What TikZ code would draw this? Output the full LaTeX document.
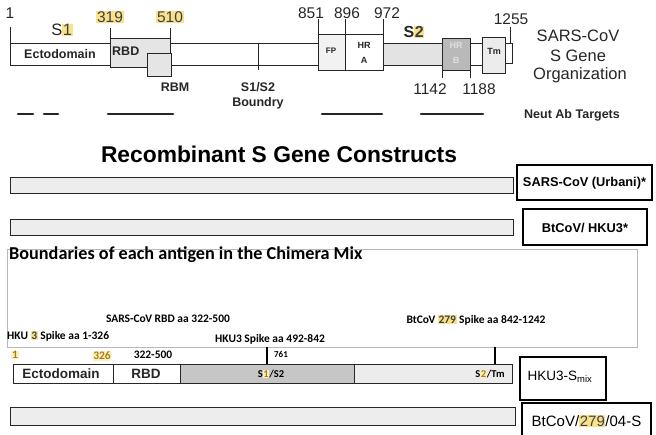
\documentclass[tikz,border=0pt]{standalone}
\usepackage{fontspec}
\setmainfont{Liberation Sans}
\newfontfamily\calfont{Carlito}
\definecolor{hlbg}{RGB}{250,226,140}
\definecolor{hlfg}{RGB}{170,125,25}
\definecolor{hlpale}{RGB}{253,240,190}
\newcommand{\hlt}[1]{{\setlength{\fboxsep}{0.6pt}\colorbox{hlbg}{\textcolor{black!75}{#1}}}}
\newcommand{\hlg}[1]{{\setlength{\fboxsep}{0.6pt}\colorbox{hlpale}{\textcolor{hlfg}{#1}}}}
\newcommand{\fsz}[1]{\fontsize{#1}{#1}\selectfont}
\begin{document}
\begin{tikzpicture}[x=1pt,y=-1pt,
  seg/.style={draw=black!85,line width=0.8pt},
  light/.style={seg,fill=gray!14},
  tick/.style={draw=black!85,line width=0.7pt},
  num/.style={font=\fsz{15.5},inner sep=0pt,text=black!85},
  lbl/.style={font=\bfseries\fsz{12.5},inner sep=0pt,text=black!85},
  small/.style={font=\bfseries\fsz{9},inner sep=0pt,text=black!85},
  big/.style={font=\fsz{16.5},inner sep=0pt,text=black!85},
  target/.style={line width=2.6pt,line cap=round,draw=black!85},
  tagbox/.style={draw=black,line width=1.2pt},
  taglbl/.style={font=\bfseries\fsz{12.8},inner sep=0pt},
  cal/.style={font=\calfont\bfseries\fsz{11.5},inner sep=0pt}]
\useasboundingbox (0,0) rectangle (656,435);

% ---------- SARS-CoV S gene organization ----------
\draw[seg] (10,43) rectangle (110,65);
\draw[seg] (170,43) -- (318,43) (170,65) -- (318,65);
\draw[light,fill=gray!20] (110,38) rectangle (170,67);
\draw[light,fill=gray!20] (147,53) rectangle (171,76);
\node[lbl] (ecto) at (60,54) {Ectodomain};
\node[lbl,anchor=west] (rbd) at (112,51) {RBD};
\node[lbl] (rbm) at (175,87) {RBM};
\draw[tick] (258,43) -- (258,70);
\node[lbl] (s1s2) at (258,87) {S1/S2};
\node[lbl] (boundry) at (258,103) {Boundry};

\draw[seg,fill=gray!10] (318,34) rectangle (345,70);
\draw[seg,fill=white] (345,34) rectangle (383,70);
\draw[seg,fill=gray!22] (383,43) rectangle (442,65);
\draw[seg,fill=gray!55] (442,38) rectangle (470,70);
\draw[seg] (470,43) -- (482,43) (470,65) -- (482,65);
\draw[seg,fill=gray!15] (482,37) rectangle (505,73);
\draw[seg] (505,43) -- (512,43) -- (512,63) -- (505,63);
\node[small,font=\bfseries\fsz{8}] (fp) at (331,51) {FP};
\node[small] (hra1) at (364,45) {HR};
\node[small] (hra2) at (364,60) {A};
\node[small,text=gray!25] (hrb1) at (456,45) {HR};
\node[small,text=gray!25] (hrb2) at (456,60) {B};
\node[small] (tm) at (494,51) {Tm};

% position ticks and numbers
\draw[tick] (10,27) -- (10,43);
\draw[tick] (110,28) -- (110,38);
\draw[tick] (170,28) -- (170,38);
\draw[tick] (318,19) -- (318,34);
\draw[tick] (345,19) -- (345,34);
\draw[tick] (383,19) -- (383,34);
\draw[tick] (442,70) -- (442,78);
\draw[tick] (470,70) -- (470,78);
\draw[tick] (510,27) -- (510,43);
\node[num] (n1) at (10,13) {1};
\node[num] (n319) at (110,17) {\hlt{319}};
\node[num] (n510) at (170,17) {\hlt{510}};
\node[num] (n851) at (311,13) {851};
\node[num] (n896) at (347,13) {896};
\node[num] (n972) at (387,13) {972};
\node[num] (n1255) at (511,19) {1255};
\node[num] (n1142) at (430,89) {1142};
\node[num] (n1188) at (479,89) {1188};
\node[big] (s1) at (62,30) {S\hlt{1}};
\node[big,font=\bfseries\fsz{16}] (s2) at (414,32) {S\hlt{2}};

\node[big] (org1) at (578,36) {SARS-CoV};
\node[big] (org2) at (578,56) {S Gene};
\node[big] (org3) at (580,75) {Organization};

% neutralising antibody targets
\draw[target] (18,114) -- (33,114);
\draw[target] (44,114) -- (58,114);
\draw[target] (108,114) -- (173,114);
\draw[target] (322,114) -- (382,114);
\draw[target] (421,114) -- (483,114);
\node[lbl,font=\bfseries\fsz{12.5}] (neut) at (572,115) {Neut Ab Targets};

% ---------- recombinant constructs ----------
\node[font=\bfseries\fsz{22.8},inner sep=0pt] (title) at (279,154) {Recombinant S Gene Constructs};

\draw[light] (10,177) rectangle (513,193);
\draw[tagbox] (517,165) rectangle (652,200);
\node[taglbl] (urbani) at (584.5,183) {SARS-CoV (Urbani)*};

\draw[light] (10,219) rectangle (513,235);
\draw[tagbox] (523,209) rectangle (647,245);
\node[taglbl] (hku3) at (585,228) {BtCoV/ HKU3*};

% ---------- chimera mix ----------
\draw[draw=gray!55,line width=0.6pt] (7,249) rectangle (637,347);
\node[font=\calfont\bfseries\fsz{18.2},inner sep=0pt,anchor=west] (bnd) at (9,255) {Boundaries of each antigen in the Chimera Mix};
\node[cal] (lrbd) at (168,319) {SARS-CoV RBD aa 322-500};
\node[cal,anchor=west] (lhku1) at (7,336) {HKU \hlt{3} Spike aa 1-326};
\node[cal] (lhku2) at (270,339) {HKU3 Spike aa 492-842};
\node[cal] (lbt) at (476,320) {BtCoV \hlt{279} Spike aa 842-1242};

\node[cal] (m1) at (15,355) {\hlg{1}};
\node[cal] (m326) at (102,356) {\hlg{326}};
\node[cal] (m322) at (153,355) {322-500};
\node[cal,font=\calfont\bfseries\fsz{9}] (m761) at (281,354) {761};
\draw[line width=1.3pt] (267,347) -- (267,364);
\draw[line width=1.3pt] (495,347) -- (495,364);

\draw[seg] (13,364) rectangle (113,383);
\draw[seg] (113,364) rectangle (180,383);
\draw[seg,fill=gray!45] (180,364) rectangle (354,383);
\draw[seg,fill=gray!15] (354,364) rectangle (512,383);
\node[lbl,font=\bfseries\fsz{13.5}] (mecto) at (61,374) {Ectodomain};
\node[lbl,font=\bfseries\fsz{13.5}] (mrbd) at (146,374) {RBD};
\node[cal,font=\calfont\bfseries\fsz{10.5}] (ms1) at (271,374) {S\hlg{1}/S2};
\node[cal,font=\calfont\bfseries\fsz{10.5}] (ms2) at (490,374) {S\hlg{2}/Tm};
\draw[tagbox] (520,357) rectangle (606,400);
\node[font=\fsz{13.5},inner sep=0pt] (smix) at (560,377) {HKU3-S\textsubscript{mix}};

\draw[light] (10,407) rectangle (515,425);
\draw[tagbox] (522,403) rectangle (651,440);
\node[font=\fsz{15},inner sep=0pt] (bt279) at (586.5,421) {BtCoV/\hlt{279}/04-S};
\end{tikzpicture}
\end{document}
